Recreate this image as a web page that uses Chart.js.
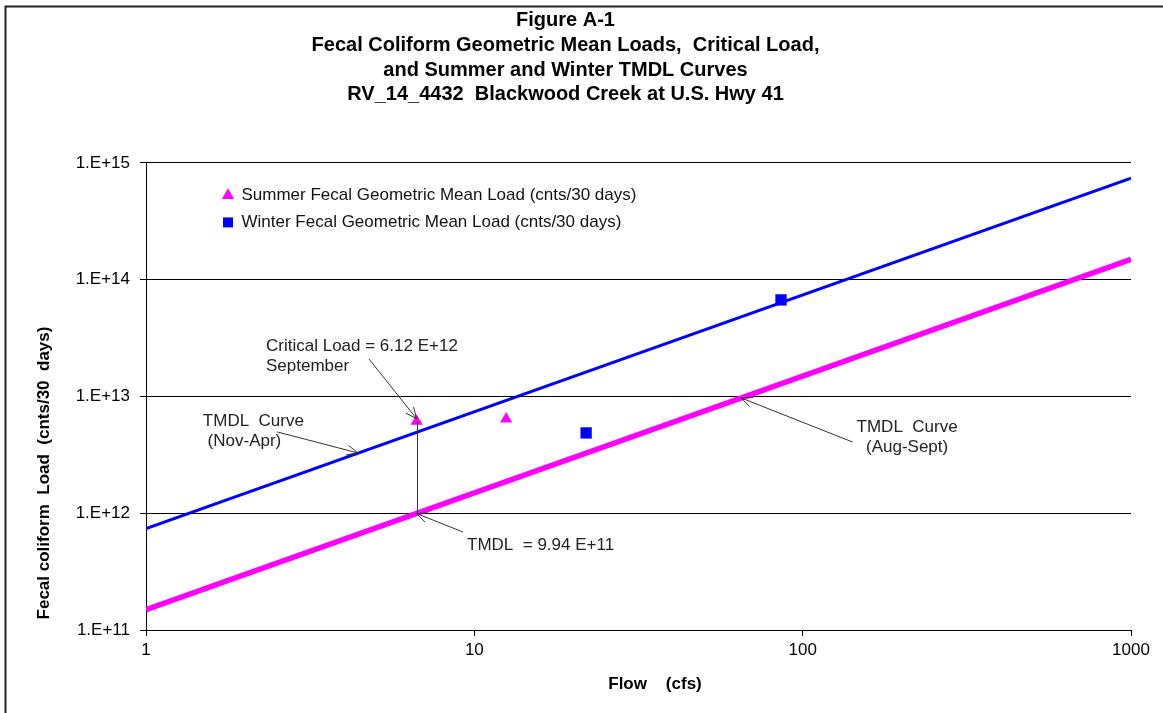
<!DOCTYPE html>
<html>
<head>
<meta charset="utf-8">
<title>Figure A-1</title>
<script src="https://cdn.jsdelivr.net/npm/chart.js@4.4.1/dist/chart.umd.min.js"></script>
<style>
  html, body { margin: 0; padding: 0; background: #fff; }
  #wrap { width: 1163px; height: 713px; }
</style>
</head>
<body>
<div id="wrap"><canvas id="tmdl-chart" width="1163" height="713"></canvas></div>
<script>
// flow in cfs, loads in counts per 30 days
const flowRange = [1, 1000];
const winterTmdl = [7.4e11, 7.4e14];
const summerTmdl = [1.49e11, 1.49e14];
const summerFlow = [6.67, 12.5];
const summerLoad = [6.12e12, 6.4e12];
const winterFlow = [21.9, 85.9];
const winterLoad = [4.87e12, 6.71e13];
const criticalFlow = 6.67;
const criticalLoad = 6.12e12;
const tmdlLoad = 9.94e11;
const flowTicks = [1, 10, 100, 1000];
const loadTicks = [1e11, 1e12, 1e13, 1e14, 1e15];
const loadTickLabels = ['1.E+11', '1.E+12', '1.E+13', '1.E+14', '1.E+15'];

const FONT = "'Liberation Sans', Arial, sans-serif";

// callout labels with arrows, placed in data units
const callouts = [
  { text: ['Critical Load = 6.12 E+12', 'September'], at: [2.32, 2.71e13], align: 'left',
    from: [4.78, 2.09e13], to: [criticalFlow, 6.45e12] },
  { text: ['TMDL  Curve', ' (Nov-Apr)'], at: [1.49, 6.17e12], align: 'left',
    from: [2.51, 4.97e12], to: [4.42, 3.28e12] },
  { text: ['TMDL  = 9.94 E+11'], at: [9.5, 5.35e11], align: 'left',
    from: [9.24, 6.9e11], to: [criticalFlow, tmdlLoad] },
  { text: ['TMDL  Curve', '(Aug-Sept)'], at: [208, 5.48e12], align: 'center',
    from: [142, 4.07e12], to: [65, 9.7e12] }
];

const pts = (xs, ys) => xs.map((x, i) => ({ x: x, y: ys[i] }));

function arrow(ctx, x1, y1, x2, y2) {
  const a = Math.atan2(y2 - y1, x2 - x1);
  const len = 12, spread = 0.42;
  ctx.beginPath();
  ctx.moveTo(x1, y1);
  ctx.lineTo(x2, y2);
  ctx.moveTo(x2 - len * Math.cos(a - spread), y2 - len * Math.sin(a - spread));
  ctx.lineTo(x2, y2);
  ctx.lineTo(x2 - len * Math.cos(a + spread), y2 - len * Math.sin(a + spread));
  ctx.stroke();
}

const framePlugin = {
  id: 'frame',
  beforeDraw(chart) {
    const ctx = chart.ctx;
    ctx.save();
    ctx.fillStyle = '#fff';
    ctx.fillRect(0, 0, chart.width, chart.height);
    ctx.strokeStyle = '#222';
    ctx.lineWidth = 2;
    ctx.strokeRect(5.5, 6.5, chart.width + 20, chart.height + 20);
    ctx.restore();
  },
  afterLayout(chart) {
    // legend sits inside the plot, upper left
    const lg = chart.legend;
    if (lg) {
      lg.left = chart.chartArea.left + 67;
      lg.top = chart.chartArea.top + 14;
    }
  },
  afterDraw(chart) {
    const ctx = chart.ctx;
    ctx.save();
    ctx.fillStyle = '#000';
    ctx.font = 'bold 17px ' + FONT;
    ctx.textAlign = 'center';
    ctx.textBaseline = 'middle';
    ctx.fillText('Flow    (cfs)', 655, 684);
    ctx.translate(44, 473);
    ctx.rotate(-Math.PI / 2);
    ctx.fillText('Fecal coliform  Load  (cnts/30  days)', 0, 0);
    ctx.restore();
  }
};

const calloutPlugin = {
  id: 'callouts',
  afterDatasetsDraw(chart) {
    const { ctx, scales: { x, y } } = chart;
    ctx.save();
    ctx.strokeStyle = '#333';
    ctx.lineWidth = 1;
    // drop from the critical load to the allowable load
    const cx = Math.round(x.getPixelForValue(criticalFlow)) + 0.5;
    ctx.beginPath();
    ctx.moveTo(cx, y.getPixelForValue(criticalLoad));
    ctx.lineTo(cx, y.getPixelForValue(tmdlLoad));
    ctx.stroke();

    ctx.font = '17px ' + FONT;
    ctx.fillStyle = '#222';
    ctx.textBaseline = 'middle';
    callouts.forEach(c => {
      arrow(ctx,
        x.getPixelForValue(c.from[0]), y.getPixelForValue(c.from[1]),
        x.getPixelForValue(c.to[0]), y.getPixelForValue(c.to[1]));
      ctx.textAlign = c.align;
      const tx = x.getPixelForValue(c.at[0]);
      const ty = y.getPixelForValue(c.at[1]);
      c.text.forEach((line, i) => ctx.fillText(line, tx, ty + i * 20));
    });
    ctx.restore();
  }
};

const ctxEl = document.getElementById('tmdl-chart');

new Chart(ctxEl, {
  type: 'scatter',
  data: {
    datasets: [
      {
        label: 'Summer Fecal Geometric Mean Load (cnts/30 days)',
        data: pts(summerFlow, summerLoad),
        pointStyle: 'triangle',
        pointRadius: 7,
        backgroundColor: '#FF00FF',
        borderColor: '#FF00FF',
        borderWidth: 0,
        order: 0
      },
      {
        label: 'Winter Fecal Geometric Mean Load (cnts/30 days)',
        data: pts(winterFlow, winterLoad),
        pointStyle: 'rect',
        pointRadius: 8,
        backgroundColor: '#0000FF',
        borderColor: '#0000FF',
        borderWidth: 0,
        order: 0
      },
      {
        label: 'TMDL Curve (Nov-Apr)',
        data: pts(flowRange, winterTmdl),
        showLine: true,
        pointRadius: 0,
        borderColor: '#0000FF',
        borderWidth: 3,
        order: 1
      },
      {
        label: 'TMDL Curve (Aug-Sept)',
        data: pts(flowRange, summerTmdl),
        showLine: true,
        pointRadius: 0,
        borderColor: '#FF00FF',
        borderWidth: 5.5,
        order: 1
      }
    ]
  },
  options: {
    responsive: false,
    animation: false,
    events: [],
    layout: { padding: { left: 0, right: 32, top: 0, bottom: 0 } },
    scales: {
      x: {
        type: 'logarithmic',
        min: 1,
        max: 1000,
        afterBuildTicks: s => { s.ticks = flowTicks.map(v => ({ value: v })); },
        afterFit: s => { s.height = 83; },
        ticks: {
          callback: v => String(v),
          color: '#000',
          font: { family: FONT, size: 17 },
          padding: 4,
          maxRotation: 0,
          autoSkip: false
        },
        grid: { drawOnChartArea: false, drawTicks: true, tickLength: 6, tickColor: '#000' },
        border: { display: true, color: '#000', width: 1 }
      },
      y: {
        type: 'logarithmic',
        min: 1e11,
        max: 1e15,
        afterBuildTicks: s => { s.ticks = loadTicks.map(v => ({ value: v })); },
        afterFit: s => { s.width = 146; },
        ticks: {
          callback: v => loadTickLabels[loadTicks.findIndex(t => Math.abs(t / v - 1) < 1e-6)],
          color: '#000',
          font: { family: FONT, size: 17 },
          padding: 10,
          autoSkip: false
        },
        grid: { color: '#000', lineWidth: 1, tickLength: 6, tickColor: '#000' },
        border: { display: true, color: '#000', width: 1 }
      }
    },
    plugins: {
      title: {
        display: true,
        text: [
          'Figure A-1',
          'Fecal Coliform Geometric Mean Loads,  Critical Load,',
          'and Summer and Winter TMDL Curves',
          'RV_14_4432  Blackwood Creek at U.S. Hwy 41'
        ],
        color: '#000',
        font: { family: FONT, size: 20, weight: 'bold', lineHeight: 1.23 },
        padding: { top: 8.5, bottom: 56 }
      },
      legend: {
        position: 'chartArea',
        align: 'start',
        labels: {
          filter: item => item.datasetIndex < 2,
          usePointStyle: true,
          boxWidth: 10,
          boxHeight: 10,
          padding: 10,
          color: '#111',
          font: { family: FONT, size: 17 }
        }
      },
      tooltip: { enabled: false }
    }
  },
  plugins: [framePlugin, calloutPlugin]
});
</script>
</body>
</html>
